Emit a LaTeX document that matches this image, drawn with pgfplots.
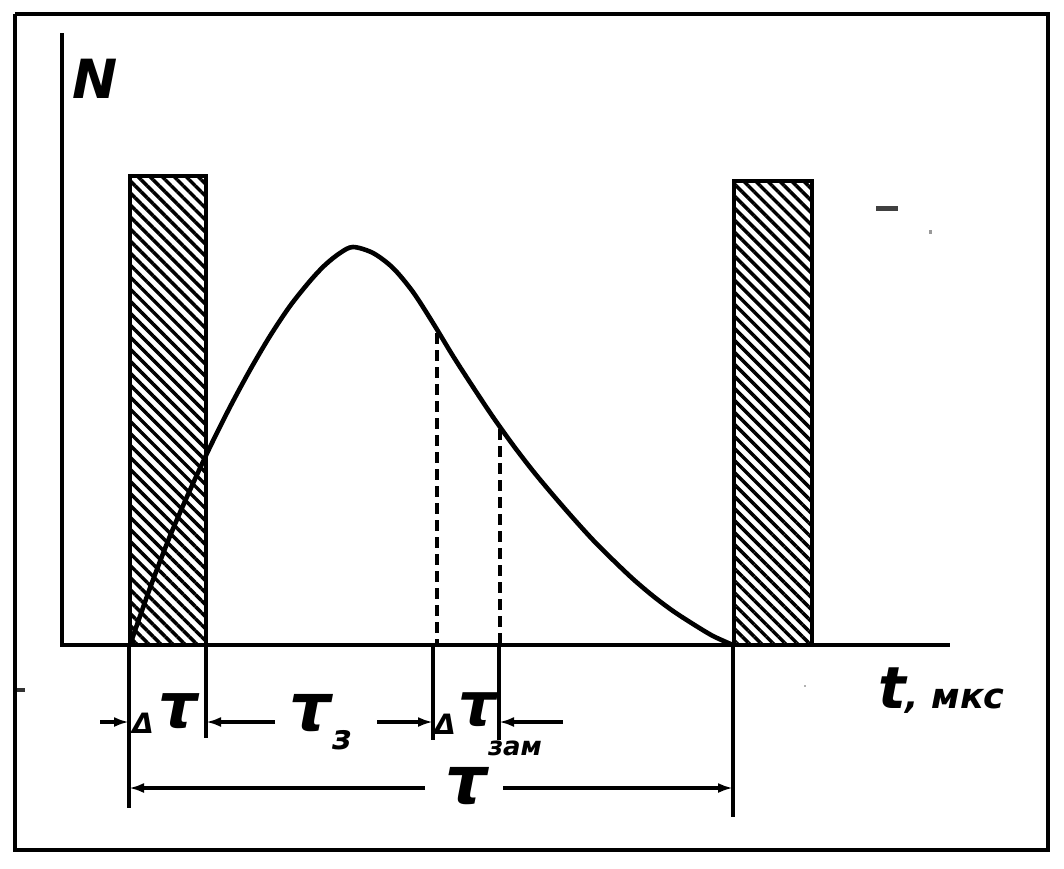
\documentclass[border=0pt]{standalone}
\usepackage{pgfplots}
\pgfplotsset{compat=1.18}
\usepackage{fontspec}
\setmainfont{DejaVu Sans}
\usetikzlibrary{patterns.meta,arrows.meta}
\begin{document}
\begin{tikzpicture}
\begin{axis}[
  width=1064pt, height=868pt, scale only axis,
  xmin=0, xmax=1064, ymin=0, ymax=868, y dir=reverse,
  hide axis, clip=false,
]
\path (axis cs:0,0) rectangle (axis cs:1064,868);
% frame
\addplot[line width=4pt, black] coordinates {(15,14) (1048,14) (1048,850) (15,850) (15,14)};
% hatched pulses
\addplot[line width=4pt, black, pattern={Lines[angle=-45,distance=8.5pt,line width=3.5pt]}, pattern color=black]
  coordinates {(130,645) (130,176) (206,176) (206,645) (130,645)};
\addplot[line width=4pt, black, pattern={Lines[angle=-45,distance=8.5pt,line width=3.5pt]}, pattern color=black]
  coordinates {(734,645) (734,181) (812,181) (812,645) (734,645)};
% axes
\addplot[line width=4pt, black] coordinates {(62,33) (62,645) (950,645)};
% curve
\addplot[line width=4.6pt, black, smooth] coordinates {
 (130,645) (150,588) (170,536) (190,490) (210,447) (230,407) (250,370) (270,336)
 (290,306) (310,281) (325,265) (340,253) (353,247) (373,253) (393,268) (413,292)
 (433,323) (453,356) (473,387) (493,417) (513,445) (533,471) (553,495) (573,518)
 (593,540) (613,560) (633,579) (653,596) (673,611) (693,624) (713,636) (733,645)};
% dashed lines
\addplot[line width=3.5pt, black, dash pattern=on 11pt off 6pt] coordinates {(437,333) (437,645)};
\addplot[line width=3.5pt, black, dash pattern=on 11pt off 6pt] coordinates {(500,429) (500,645)};
% extension lines
\addplot[line width=3.5pt, black] coordinates {(129,645) (129,808)};
\addplot[line width=3.5pt, black] coordinates {(206,645) (206,738)};
\addplot[line width=3.5pt, black] coordinates {(433,645) (433,740)};
\addplot[line width=3.5pt, black] coordinates {(499,645) (499,740)};
\addplot[line width=3.5pt, black] coordinates {(733,645) (733,817)};
% dimension arrows row 1
\addplot[line width=3.5pt, black, -{Latex[length=15pt,width=10pt]}] coordinates {(100,722) (129,722)};
\addplot[line width=3.5pt, black, -{Latex[length=15pt,width=10pt]}] coordinates {(275,722) (206,722)};
\addplot[line width=3.5pt, black, -{Latex[length=15pt,width=10pt]}] coordinates {(377,722) (433,722)};
\addplot[line width=3.5pt, black, -{Latex[length=15pt,width=10pt]}] coordinates {(563,722) (499,722)};
% dimension arrows row 2
\addplot[line width=3.5pt, black, -{Latex[length=15pt,width=10pt]}] coordinates {(425,788) (129,788)};
\addplot[line width=3.5pt, black, -{Latex[length=15pt,width=10pt]}] coordinates {(503,788) (733,788)};
% stray marks of the scan
\addplot[line width=5pt, black!75] coordinates {(876,208) (898,208)};
\addplot[line width=4pt, black!40] coordinates {(929,232) (932,232)};
\addplot[line width=4pt, black!80] coordinates {(17,690) (25,690)};
\addplot[line width=2pt, black!30] coordinates {(804,686) (806,686)};
% labels
\node[font=\bfseries\itshape\fontsize{54}{54}\selectfont, inner sep=0pt] at (axis cs:95,79) {N};
\node[inner sep=0pt, anchor=base west] at (axis cs:878,708) {\bfseries\itshape\fontsize{58}{58}\selectfont t\fontsize{35}{35}\selectfont, мкс};
% Delta tau
\node[inner sep=0pt, font=\bfseries\itshape\fontsize{28}{28}\selectfont] at (axis cs:143,723) {Δ};
\node[inner sep=0pt, font=\bfseries\itshape\fontsize{62}{62}\selectfont] at (axis cs:178,711) {τ};
% tau_z
\node[inner sep=0pt, font=\bfseries\itshape\fontsize{66}{66}\selectfont] at (axis cs:311,713) {τ};
\node[inner sep=0pt, font=\bfseries\itshape\fontsize{34}{34}\selectfont] at (axis cs:342,740) {з};
% Delta tau_zam
\node[inner sep=0pt, font=\bfseries\itshape\fontsize{28}{28}\selectfont] at (axis cs:445,724) {Δ};
\node[inner sep=0pt, font=\bfseries\itshape\fontsize{60}{60}\selectfont] at (axis cs:478,710) {τ};
\node[inner sep=0pt, font=\bfseries\itshape\fontsize{26}{26}\selectfont] at (axis cs:515,748) {зам};
% tau
\node[inner sep=0pt, font=\bfseries\itshape\fontsize{66}{66}\selectfont] at (axis cs:467,786) {τ};
\end{axis}
\end{tikzpicture}
\end{document}
